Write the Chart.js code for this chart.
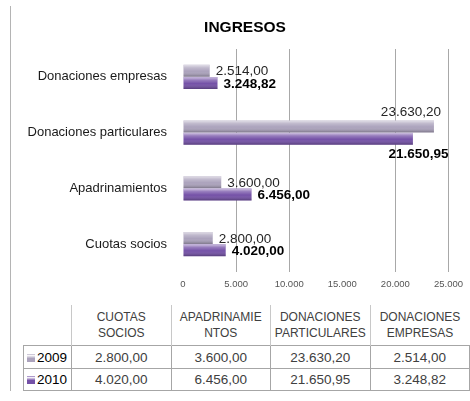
<!DOCTYPE html>
<html lang="es">
<head>
<meta charset="utf-8">
<title>Ingresos</title>
<script src="https://cdn.jsdelivr.net/npm/chart.js@4.4.1/dist/chart.umd.min.js"></script>
<style>
    body {
        margin: 0;
        width: 470px;
        height: 401px;
        position: relative;
        overflow: hidden;
        background: #fff;
        font-family: "Liberation Sans", Arial, sans-serif;
    }
    #marco {
        position: absolute;
        left: 10px;
        top: 6px;
        width: 1px;
        height: 385px;
        background: #b4b4b4;
    }
    #titulo {
        position: absolute;
        left: 145px;
        top: 17px;
        width: 200px;
        text-align: center;
        font-size: 15.5px;
        line-height: 19px;
        font-weight: bold;
        color: #000;
    }
    #ingresosChart {
        position: absolute;
        left: 0;
        top: 0;
    }
    #tablaDatos {
        position: absolute;
        left: 23px;
        top: 305px;
        border-collapse: collapse;
        table-layout: fixed;
        width: 447px;
    }
    #tablaDatos th {
        font-weight: normal;
        font-size: 12px;
        line-height: 16px;
        color: #404040;
        height: 40px;
        padding: 0;
        text-align: center;
        border-left: 1px solid #c8c8c8;
        white-space: pre-line;
    }
    #tablaDatos th.vacio {
        border-left: none;
    }
    #tablaDatos td {
        font-size: 13.5px;
        color: #404040;
        text-align: center;
        padding: 0;
        border: 1px solid #a6a6a6;
    }
    #tablaDatos td.serie {
        color: #000;
        text-align: left;
        padding-left: 3px;
    }
    .clave {
        display: inline-block;
        width: 8px;
        height: 8px;
        margin-right: 2px;
        vertical-align: 0px;
    }
</style>
</head>
<body>
<div id="marco"></div>
<canvas id="ingresosChart" width="470" height="300"></canvas>
<div id="titulo"></div>
<table id="tablaDatos"></table>

<script>
// Datos del gráfico
const titulo = 'INGRESOS';
const categorias = ['Cuotas socios', 'Apadrinamientos', 'Donaciones particulares', 'Donaciones empresas'];
const cabecerasTabla = ['CUOTAS\nSOCIOS', 'APADRINAMIE\nNTOS', 'DONACIONES\nPARTICULARES', 'DONACIONES\nEMPRESAS'];
const anios = ['2009', '2010'];
const valores2009 = [2800.00, 3600.00, 23630.20, 2514.00];
const valores2010 = [4020.00, 6456.00, 21650.95, 3248.82];
const ticksEje = [0, 5000, 10000, 15000, 20000, 25000];

const colores = ['#aba2bc', '#7451a7'];
const fuente = '"Liberation Sans", Arial, sans-serif';

// Formato español: 23.630,20
function formatoNumero(valor, decimales) {
    const partes = valor.toFixed(decimales).split('.');
    const entero = partes[0].replace(/\B(?=(\d{3})+$)/g, '.');
    return decimales ? entero + ',' + partes[1] : entero;
}

// Plugin para el brillo de las barras y las etiquetas de datos
const barrasPlugin = {
    id: 'barrasPlugin',
    afterDatasetsDraw(chart) {
        const ctx = chart.ctx;
        const area = chart.chartArea;
        ctx.save();
        chart.data.datasets.forEach(function (dataset, i) {
            const meta = chart.getDatasetMeta(i);
            meta.data.forEach(function (bar, j) {
                const p = bar.getProps(['x', 'y', 'base', 'height'], true);
                const arriba = p.y - p.height / 2;
                const abajo = p.y + p.height / 2;
                // Degradado para dar volumen
                const grad = ctx.createLinearGradient(0, arriba, 0, abajo);
                grad.addColorStop(0, 'rgba(255,255,255,0.65)');
                grad.addColorStop(0.25, 'rgba(255,255,255,0.25)');
                grad.addColorStop(0.55, 'rgba(255,255,255,0)');
                grad.addColorStop(1, 'rgba(0,0,0,0.28)');
                ctx.fillStyle = grad;
                ctx.fillRect(p.base, arriba, p.x - p.base, p.height);

                // Etiqueta
                const texto = formatoNumero(dataset.data[j], 2);
                ctx.font = (i === 1 ? 'bold ' : '') + '13.5px ' + fuente;
                ctx.fillStyle = i === 1 ? '#000' : '#262626';
                const ancho = ctx.measureText(texto).width;
                if (p.x + 6 + ancho <= area.right) {
                    ctx.textAlign = 'left';
                    ctx.textBaseline = 'middle';
                    ctx.fillText(texto, p.x + 6, p.y + 1);
                } else if (i === 0) {
                    ctx.textAlign = 'right';
                    ctx.textBaseline = 'bottom';
                    ctx.fillText(texto, p.x + 7, arriba - 2);
                } else {
                    ctx.textAlign = 'right';
                    ctx.textBaseline = 'top';
                    ctx.fillText(texto, area.right, abajo + 3);
                }
            });
        });
        ctx.restore();
    }
};

// Función para crear el gráfico de barras
function createChart() {
    document.getElementById('titulo').textContent = titulo;
    const ctx = document.getElementById('ingresosChart').getContext('2d');
    new Chart(ctx, {
        type: 'bar',
        data: {
            labels: categorias,
            datasets: [{
                label: anios[0],
                data: valores2009,
                backgroundColor: colores[0],
                borderWidth: 0
            }, {
                label: anios[1],
                data: valores2010,
                backgroundColor: colores[1],
                borderWidth: 0
            }]
        },
        options: {
            indexAxis: 'y',
            responsive: false,
            devicePixelRatio: 1,
            animation: false,
            layout: {
                padding: { left: 0, right: 15, top: 49, bottom: 0 }
            },
            datasets: {
                bar: {
                    categoryPercentage: 0.44,
                    barPercentage: 0.96
                }
            },
            scales: {
                x: {
                    min: 0,
                    max: 25000,
                    afterBuildTicks: function (axis) {
                        axis.ticks = ticksEje.map(function (v) { return { value: v }; });
                    },
                    afterFit: function (axis) {
                        axis.height = 28;
                    },
                    border: { display: false },
                    grid: {
                        drawTicks: false,
                        color: function (c) {
                            if (!c.tick || c.tick.value === 0 || c.tick.value === 15000) {
                                return 'rgba(0,0,0,0)';
                            }
                            return '#a8a8a8';
                        }
                    },
                    ticks: {
                        padding: 7,
                        color: '#555',
                        font: { family: fuente, size: 9.5 },
                        callback: function (value) {
                            return formatoNumero(value, 0);
                        }
                    }
                },
                y: {
                    reverse: true,
                    afterFit: function (axis) {
                        axis.width = 183;
                    },
                    border: { display: false },
                    grid: { display: false, drawTicks: false },
                    ticks: {
                        padding: 16,
                        color: '#1a1a1a',
                        font: { family: fuente, size: 13 }
                    }
                }
            },
            plugins: {
                legend: { display: false },
                tooltip: { enabled: false },
                title: { display: false }
            }
        },
        plugins: [barrasPlugin]
    });
}

// Tabla de datos bajo el gráfico
function createTable() {
    const tabla = document.getElementById('tablaDatos');
    let html = '<colgroup><col style="width:48px">';
    cabecerasTabla.forEach(function () { html += '<col>'; });
    html += '</colgroup><tr><th class="vacio"></th>';
    cabecerasTabla.forEach(function (c) { html += '<th>' + c + '</th>'; });
    html += '</tr>';
    [valores2009, valores2010].forEach(function (serie, i) {
        const alto = i === 0 ? 23 : 22;
        html += '<tr style="height:' + alto + 'px"><td class="serie">' +
            '<span class="clave" style="background:linear-gradient(' + colores[i] + ' 0%, #fff 15%, ' + colores[i] + ' 55%, ' + colores[i] + ' 100%)"></span>' +
            anios[i] + '</td>';
        serie.forEach(function (v) { html += '<td>' + formatoNumero(v, 2) + '</td>'; });
        html += '</tr>';
    });
    tabla.innerHTML = html;
}

document.addEventListener('DOMContentLoaded', function () {
    createChart();
    createTable();
});
</script>
</body>
</html>
